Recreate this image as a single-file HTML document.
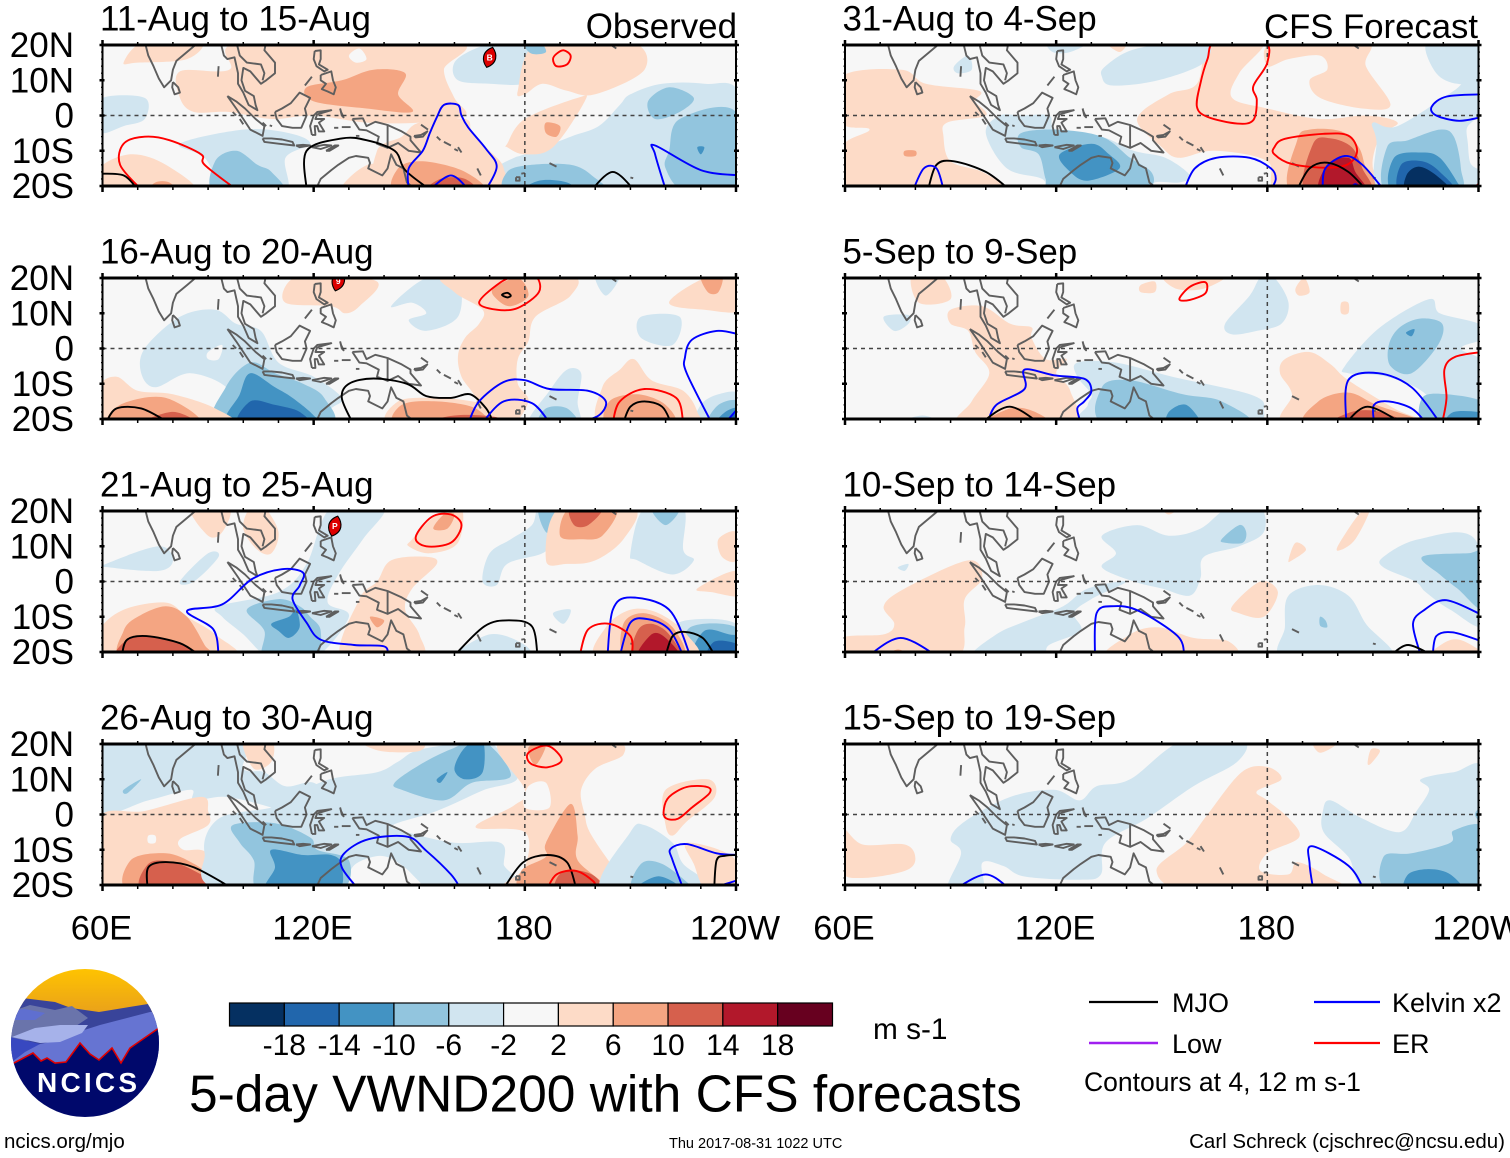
<!DOCTYPE html>
<html lang="en">
<head>
<meta charset="utf-8">
<title>5-day VWND200 with CFS forecasts</title>
<style>
html,body{margin:0;padding:0;background:#fff;}
svg{display:block;font-family:"Liberation Sans",Arial,sans-serif;}
</style>
</head>
<body>
<svg id="chart" xmlns="http://www.w3.org/2000/svg" width="1510" height="1158" viewBox="0 0 1510 1158">
  <rect width="1510" height="1158" fill="#fff"/>
  <g id="panels"></g>
  <g id="colorbar"></g>
  <text x="873" y="1039" font-size="29.8">m s-1</text>
  <text x="189" y="1111.5" font-size="51.5">5-day VWND200 with CFS forecasts</text>
  <g>
    <line x1="1089" x2="1158" y1="1002" y2="1002" stroke="#000" stroke-width="2.2"/>
    <text x="1172" y="1012" font-size="27">MJO</text>
    <line x1="1314" x2="1380" y1="1002" y2="1002" stroke="#0000ff" stroke-width="2.2"/>
    <text x="1392" y="1012" font-size="27">Kelvin x2</text>
    <line x1="1089" x2="1158" y1="1043" y2="1043" stroke="#a020f0" stroke-width="2.6"/>
    <text x="1172" y="1053" font-size="27">Low</text>
    <line x1="1314" x2="1380" y1="1043" y2="1043" stroke="#ff0000" stroke-width="2.2"/>
    <text x="1392" y="1053" font-size="27">ER</text>
    <text x="1084" y="1091" font-size="26.5">Contours at 4, 12 m s-1</text>
  </g>
  <text x="4" y="1148" font-size="20.5">ncics.org/mjo</text>
  <text x="669" y="1148" font-size="14.5">Thu 2017-08-31 1022 UTC</text>
  <text x="1505" y="1148" font-size="20.5" text-anchor="end">Carl Schreck (cjschrec@ncsu.edu)</text>
  <g>
    <defs>
      <clipPath id="logoClip"><ellipse cx="85" cy="1043" rx="74" ry="74"/></clipPath>
      <linearGradient id="logoSky" x1="0" y1="0" x2="0" y2="1"><stop offset="0" stop-color="#ffc400"/><stop offset="1" stop-color="#e89f1c"/></linearGradient>
    </defs>
    <g clip-path="url(#logoClip)">
      <rect x="10" y="968" width="150" height="48" fill="url(#logoSky)"/>
      <path d="M10 997 L22 998 L55 1002 L71 1008 L99 1012 L148 1004 L160 1006 V1070 H10Z" fill="#39449a"/>
      <path d="M10 1012 L30 1005 L55 1010 L72 1006 L88 1018 L70 1030 L10 1045Z" fill="#6a74ab"/>
      <path d="M10 1010 L25 1009 L45 1013 L35 1020 L10 1020Z" fill="#5f6fd0"/>
      <path d="M78 1032 L100 1025 L150 1012 L160 1012 V1075 H10 V1050 L60 1040Z" fill="#6674d2"/>
      <path d="M12 1037 L35 1028 L60 1025 L88 1025 L82 1033 L60 1042 L40 1043Z" fill="#a6b2ea"/>
      <path d="M10 1037 L40 1044 L25 1052 L12 1062 L10 1062Z" fill="#3848c0"/>
      <path d="M10 1064 L14 1063 L33 1053 L41 1061 L47 1058 L55 1063 L66 1062 L80 1043 L90 1054 L99 1060 L112 1048 L121 1063 L130 1048 L156 1030 L162 1026 V1120 H10Z" fill="#00086b"/>
      <path d="M10 1064 L14 1063 L33 1053 L41 1061 L47 1058 L55 1063 L66 1062 L80 1043 L90 1054 L99 1060 L112 1048 L121 1063 L130 1048 L156 1030 L162 1026" fill="none" stroke="#e00000" stroke-width="1.6"/>
    </g>
    <text x="87" y="1092" font-size="28" font-weight="bold" fill="#fff" text-anchor="middle" textLength="100" lengthAdjust="spacing">NCICS</text>
  </g>
</svg>
<script>
// ---- axis data ----
const lonMajorTicks = [60, 120, 180, 240];
const lonTickLabels = ["60E", "120E", "180", "120W"];
const latMajorTicks = [20, 10, 0, -10, -20];
const latTickLabels = ["20N", "10N", "0", "10S", "20S"];
const colorLevels = [-18, -14, -10, -6, -2, 2, 6, 10, 14, 18];
const colorSteps = ["#053061", "#2166ac", "#4393c3", "#92c5de", "#d1e5f0", "#f7f7f7", "#fddbc7", "#f4a582", "#d6604d", "#b2182b", "#67001f"];
const contourColors = { mjo: "#000000", kelvin: "#0000ff", er: "#ff0000", low: "#a020f0" };

// ---- shared coastlines (lon, lat) ----
const coastlines = [
  [[72,21],[73,17],[74.5,14],[76,10.5],[77.5,8],[79.5,10],[80,13],[81,15.5],[84,18],[87,20.5],[91,22]],
  [[80,9.5],[81.5,8],[82,6.5],[80.5,6],[79.8,8],[80,9.5]],
  [[93.5,21],[94.5,17],[95.5,16],[97.5,16.5],[98.5,12],[98.5,9],[100,6.5],[101.5,3],[104,1.5],[103.5,3],[103,5.5],[100.5,7],[99.5,10],[100,13.5],[102,12.5],[105,9],[106.5,10],[109,12],[109,15],[106,18.5],[106.5,21]],
  [[98,21],[99,17],[101,15],[105,14.5],[106,12],[105.5,10]],
  [[95.5,5.5],[98,4],[100.5,2],[103.5,-1],[106,-3],[105.5,-5.8],[102,-4],[100,-1],[98,2],[95.5,5.5]],
  [[105.5,-6.5],[108,-6.5],[111,-6.8],[114,-7.5],[114.5,-8.5],[110,-8],[106,-7.5],[105.5,-6.5]],
  [[115,-8.5],[117,-8.3],[119,-8.5],[116,-9],[115,-8.5]],
  [[119.5,-9],[123,-8.3],[125,-8.5],[122,-9.5],[119.5,-9]],
  [[123.5,-10],[126,-8.5],[127,-8.5],[124.5,-10],[123.5,-10]],
  [[109,1],[111,2],[113.5,3.5],[116,6.5],[119,5],[117.5,2],[118,0],[116.5,-3.5],[114,-3.5],[111,-3],[109.5,-1],[109,1]],
  [[119.5,-5.5],[119,-3],[120,0],[121,1],[125,1.5],[121,0.3],[120.5,-1],[123,-1],[121.5,-2],[123,-4.5],[121.5,-4.5],[121,-3],[120.3,-3],[120.5,-5.5],[119.5,-5.5]],
  [[127.5,2],[128,0],[128.5,-0.5],[127.8,1],[127.5,2]],
  [[125.8,-3.5],[127,-3.5]],
  [[128,-3.3],[130.5,-3.3]],
  [[132,-5.8],[133,-5.8]],
  [[120.3,18.3],[122,18.5],[122,16],[121.5,14.5],[124,13],[123,12.5],[120.8,14],[120,16],[120.3,18.3]],
  [[122,11.5],[125,12.5],[125.5,10],[126.3,8],[125.7,6],[124,6.8],[122.3,7.5],[123.5,9],[122,10],[122,11.5]],
  [[117.5,8.5],[119.5,11]],
  [[92.8,11],[93,14]],
  [[97,1],[98,0]],
  [[99,-1],[100,-2.5]],
  [[105.5,-2],[106.5,-3]],
  [[107.5,-2.8],[108.2,-3]],
  [[131,-1],[134,-0.8],[135,-3],[137.5,-1.8],[141,-2.7],[145,-4.5],[147.5,-6],[147.5,-7],[150.5,-10.5],[147,-10],[144,-7.8],[141,-9.2],[138,-8],[138.5,-6],[135,-4.2],[133,-4],[132,-2.5],[131,-1]],
  [[141,-2.7],[141,-9.2]],
  [[148.5,-5.8],[150.5,-5.5],[152.3,-4.5],[151,-6],[149,-6.2],[148.5,-5.8]],
  [[150.5,-2.6],[152.5,-4]],
  [[155,-6],[156,-7]],
  [[157,-7.5],[159,-8.5]],
  [[160,-9.5],[161,-10]],
  [[161,-9],[162,-10.5]],
  [[120.6,-21],[122,-18],[125,-15.5],[127,-14],[130,-12],[132,-11.5],[135.5,-12],[136,-13.5],[135.5,-15],[139.5,-17],[141,-15],[142,-11],[143.5,-14],[145.5,-15],[146.5,-19],[149,-21]],
  [[166.5,-15],[167.5,-17]],
  [[177.5,-17.5],[178.5,-17.5],[178.5,-18.5],[177.5,-18.5],[177.5,-17.5]],
  [[179,-16.5],[180,-16.3]],
  [[187,-13.5],[189,-14.5]],
  [[204.5,20],[206,19]],
  [[210,-17.6],[210.8,-17.8]]
];

// ---- panel 1: 11-Aug to 15-Aug ----
const p1Fills = [
  [-4,[[82,-8],[100,-4],[113,-5],[119,-8],[112,-12],[112,-22],[96,-22],[89,-12]]],
  [-4,[[59,-1],[60,5],[72,5],[72,-1],[66,-3],[60,-5]]],
  [-4,[[161,10],[160,15],[166,19],[174,21],[187,21],[184,13],[180,9],[170,9]]],
  [-4,[[172,-15],[177,-12],[180,-11],[193,-6],[201,-3],[207,3],[210,6],[219,9],[231,9],[241,6],[242,-22],[169,-22]]],
  [4,[[66,15],[72,21],[88,21],[84,16],[70,15]]],
  [4,[[82,12.5],[96,13],[100,21],[160,21],[157,13],[160,5],[163,0],[150,-2],[135,-2],[120,0],[108,-1],[96,1],[86,1],[82,5]]],
  [0,[[130,17],[133,19],[135,16],[132,15]]],
  [4,[[140,-22],[138,-10],[145,-6],[150,-2],[163,-1],[165,-5],[170,-10],[174,-15],[172,-22]]],
  [4,[[175,-8],[180,-1],[195,5],[197,4],[188,-9],[180,-11],[175,-9]]],
  [4,[[178,7],[184,21],[210,21],[214,13],[200,6],[192,7],[185,9],[180,6]]],
  [4,[[59,-15],[68,-11],[78,-14],[86,-22],[59,-22]]],
  [4,[[128,-22],[132,-16],[138,-14],[142,-22]]],
  [8,[[118,8],[128,10],[137,13],[146,12],[144,6],[148,1],[135,2],[120,4]]],
  [8,[[144,-22],[144,-15],[151,-13],[163,-16],[168,-22]]],
  [12,[[152,-22],[156,-18],[163,-18],[166,-22]]],
  [8,[[186,-2],[190,-3],[189,-6],[186,-5]]],
  [8,[[73,-22],[75,-19],[79,-19],[81,-22]]],
  [-8,[[92,-22],[92,-13],[98,-10],[104,-14],[108,-16],[111,-22]]],
  [-8,[[176,-22],[175,-16],[182,-14],[193,-14],[199,-17],[202,-22]]],
  [-12,[[179,-22],[184,-18.5],[192,-19],[194,-22]]],
  [-8,[[221,-10],[224,-1],[240,1],[242,-22],[226,-22],[220,-15]]],
  [-8,[[215,4],[221,8],[228,5],[224,1],[217,-1]]],
  [-8,[[180,20],[184,21],[186,18],[182,17.5]]],
  [-12,[[229,-9],[231,-9],[230,-11]]]
];
const p1Contours = [
  ["er",0,[[71,-21],[65,-14],[66,-8],[72,-6],[79,-7],[88,-11],[89,-14],[98,-21]]],
  ["mjo",0,[[59,-16.5],[66,-17],[70,-21]]],
  ["mjo",0,[[118,-21],[118,-10],[128,-6.5],[135,-7],[143,-10],[146,-15.5],[153,-21]]],
  ["kelvin",0,[[147,-21],[147,-15],[151,-10],[153,-5],[155,-0.5],[157,3],[161,3],[162,0],[164,-3.5],[169,-9.5],[172,-14.5],[169,-21]]],
  ["kelvin",0,[[153,-21],[159,-17],[164,-21]]],
  ["mjo",0,[[199,-21],[205,-16],[211,-21]]],
  ["kelvin",0,[[220,-21],[217,-11],[217,-8.5],[230,-15.5],[241,-17]]],
  ["er",1,[[189,17.5],[191,18.5],[193,17],[192,14.5],[189,14],[188,16]]]
];
const p1Storm = [170, 16.5, "B"];

// ---- panel 2: 16-Aug to 20-Aug ----
const p2Fills = [
  [-4,[[71,-7],[72,0],[82,9],[92,11],[98,7],[105,5],[110,-4],[120,-8],[128,-14],[125,-17],[120,-22],[94,-22],[96,-12],[85,-7],[75,-11]]],
  [0,[[90,-1],[94,1],[93,-3],[90,-3]]],
  [-8,[[93,-22],[95,-11],[102,-4],[109,-7],[117,-10],[123,-14],[124,-22]]],
  [-12,[[96,-22],[99,-13],[102,-7],[109,-11],[114,-14],[120,-19],[121,-22]]],
  [-16,[[99,-22],[102,-15],[109,-16],[116,-18],[118,-22]]],
  [-4,[[142,12],[152,20],[161,19],[161,9],[152,5],[147,8],[152,10],[148,13]]],
  [-4,[[200,21],[207,21],[203,15]]],
  [-4,[[213,9],[224,9],[222,1],[213,3]]],
  [-4,[[229,-22],[230,-16],[235,-13],[241,-13],[242,-22]]],
  [-4,[[181,-22],[187,-12],[192,-6],[196,-7],[195,-15],[195,-22]]],
  [4,[[112,13],[113,19],[120,21],[138,19],[133,12],[129,10],[125,12]]],
  [4,[[158,21],[192,21],[193,15],[183,9],[181,2],[178,-3],[178,-10],[181,-15],[176,-22],[168,-22],[166,-14],[162,-8],[161,-2],[163,3],[167,7],[168,11],[160,16]]],
  [4,[[143,-22],[144,-15],[155,-14],[165,-15],[172,-17],[180,-22]]],
  [8,[[144,-22],[145,-16],[155,-15],[166,-17],[168,-22]]],
  [12,[[150,-22],[160,-19],[172,-19.5],[175,-22]]],
  [8,[[171,17],[178,20],[181,15],[176,12],[172,14]]],
  [4,[[202,-22],[202,-11],[207,-6],[211,-3],[216,-9],[225,-12],[229,-18],[228,-22]]],
  [8,[[204,-22],[204,-15],[212,-13],[220,-16],[222,-22]]],
  [4,[[59,-11],[64,-8],[70,-12],[80,-13],[92,-17],[96,-22],[59,-22]]],
  [8,[[63,-22],[65,-16],[78,-14],[88,-22]]],
  [12,[[70,-22],[80,-18],[87,-22]]],
  [4,[[221,13],[231,20],[240,21],[242,11],[231,11]]],
  [8,[[230,21],[232,16],[235,16],[236,21]]],
  [-8,[[184,-22],[186,-17],[192,-17],[195,-22]]],
  [-8,[[232,-22],[235,-16],[241,-15],[242,-22]]],
  [-12,[[234,-22],[237,-18],[241,-17],[242,-22]]],
  [-16,[[235.5,-22],[238,-19.5],[241,-18.5],[242,-22]]],
  [-20,[[237,-22],[240,-19.5],[242,-22]]]
];
const p2Contours = [
  ["er",1,[[167,13],[172,18],[177,20.5],[183,20.5],[184,16],[178,11.5],[172,11]]],
  ["mjo",1,[[173.5,15.2],[175,15.8],[176,15],[175,14.5]]],
  ["mjo",0,[[61,-21],[64,-17],[71,-17],[78,-20.5]]],
  ["mjo",0,[[131,-21],[128,-14],[130,-10],[137,-8.5],[146.5,-10],[152,-13.5],[159,-14],[164.5,-13],[169,-17],[171,-21]]],
  ["kelvin",0,[[164,-21],[167,-15],[174,-9.5],[180,-9],[187,-11.5],[198,-12],[203,-15],[201,-19],[195,-21]]],
  ["kelvin",0,[[168,-21],[174,-15],[182,-15.5],[187,-21]]],
  ["er",0,[[205,-21],[207,-15],[214,-11.5],[223,-14],[225,-21]]],
  ["mjo",0,[[208,-21],[210,-16.5],[214,-15],[219,-16.5],[221.5,-21]]],
  ["kelvin",0,[[233,-21],[226,-7],[225.5,-2.5],[227.5,2.5],[234.5,5],[241,4]]],
  ["kelvin",0,[[237,-21],[241,-16.5]]]
];
const p2Storm = [127, 19.2, "9"];

// ---- panel 3: 21-Aug to 25-Aug ----
const p3Fills = [
  [4,[[59,-14],[66,-8],[78,-6],[84,-10],[92,-15],[97,-22],[59,-22]]],
  [8,[[66,-22],[66,-14],[70,-10],[78,-7],[84,-10],[89,-18],[91,-22]]],
  [12,[[65,-22],[67,-16.5],[74,-15.5],[82,-17.5],[88,-22]]],
  [-4,[[93,-7],[110,-3],[118,5],[125,21],[140,21],[134,12],[127,2],[124,-6],[130,-10],[120,-22],[108,-22],[100,-15],[94,-10]]],
  [-8,[[101,-8],[110,-5],[116,-7],[119,-10],[122,-14],[120,-22],[106,-22],[106,-14]]],
  [-12,[[108,-12],[113,-10],[115,-8],[116,-13],[113,-16],[110,-14]]],
  [-4,[[61,5],[76,10],[80,6],[76,3],[62,4]]],
  [-4,[[82,0],[90,8],[93,7],[86,0]]],
  [4,[[85,21],[90,13],[94,14],[96,21]]],
  [4,[[102,21],[100,15],[104,9],[108,8],[110,14],[106,21]]],
  [4,[[148,12],[155,19],[162,21],[161,11],[153,8],[147,10]]],
  [8,[[154,15],[157,19],[160,19],[158,15]]],
  [4,[[128,-22],[133,-5],[138,0],[142,6],[152,7],[155,5],[148,-2],[146,-8],[150,-15],[150,-22]]],
  [8,[[136,-10],[140,-11],[138,-13]]],
  [-4,[[168,0],[170,8],[176,12],[182,16],[184,21],[190,21],[188,12],[185,8],[175,5],[172,-1]]],
  [-8,[[184,21],[191,21],[190,15],[186,14]]],
  [-4,[[210,8],[214,21],[225,21],[225,9],[228,6],[222,2],[212,6]]],
  [-8,[[216,21],[224,21],[220,16]]],
  [4,[[186,6],[190,21],[211,21],[208,12],[200,6],[192,5]]],
  [8,[[190,13],[193,21],[206,21],[202,13],[196,12]]],
  [12,[[193,21],[202,21],[198,16],[194,16]]],
  [-4,[[221,-15],[226,-11],[240,-12],[242,-22],[223,-22]]],
  [-8,[[226,-22],[227,-13],[240,-13],[242,-22]]],
  [-12,[[228,-22],[231,-14],[238,-15],[241,-16],[242,-22]]],
  [-16,[[232,-22],[234,-17],[241,-18],[242,-22]]],
  [4,[[201,-22],[203,-13],[210,-8],[218,-9],[226,-15],[228,-22]]],
  [8,[[209,-22],[208,-12],[214,-9],[222,-13],[225,-22]]],
  [12,[[211,-22],[212,-14],[216,-12],[221,-15],[224,-22]]],
  [16,[[212,-22],[216,-15],[220,-16],[224,-22]]],
  [-4,[[160,-22],[170,-15],[180,-18],[180,-22]]],
  [-4,[[188,-9],[193,-8],[191,-12]]],
  [4,[[229,-2],[240,3],[242,-4],[233,-3]]],
  [4,[[235,12],[240,14],[240,6],[236,7]]]
];
const p3Contours = [
  ["er",1,[[152,10],[149,12.6],[153.5,18.3],[159,19],[162,16],[159,11]]],
  ["kelvin",0,[[93,-21],[91.5,-13.6],[84,-8.4],[94,-6.5],[102.5,0.7],[111,3.5],[117,2.5],[116,-1.2],[114,-5],[118,-11.7],[122,-16.5],[131.5,-18],[140,-18.4],[141,-21]]],
  ["kelvin",0,[[203.5,-21],[205,-8],[210,-4.5],[221,-8],[227,-21]]],
  ["kelvin",0,[[207,-21],[210,-11.7],[215,-10.7],[221,-13.6],[225,-21]]],
  ["er",0,[[195.6,-21],[198,-13.6],[204,-12],[210,-15.5],[210.5,-21]]],
  ["mjo",0,[[65.5,-21],[67,-16.5],[72.5,-15.5],[82,-17.5],[87.5,-21]]],
  ["mjo",0,[[160,-21],[168.5,-12.7],[175.5,-11],[182,-12.7],[183.6,-21]]],
  ["mjo",0,[[220,-21],[222,-15.5],[225.5,-14.3],[230.5,-16],[234,-21]]]
];
const p3Storm = [126, 15.7, "P"];

// ---- panel 4: 26-Aug to 30-Aug ----
const p4Fills = [
  [-4,[[59,1],[59,21],[98,21],[100,13],[106,12],[112,8],[120,9],[125,3],[117,-1],[108,2],[95,5],[86,4],[85,7],[73,4]]],
  [4,[[59,-1],[72,1],[88,5],[90,1],[90,-3],[82,-7],[83,-10],[90,-11],[98,-22],[59,-22]]],
  [0,[[73,-6],[75,-6],[75,-8],[73,-8]]],
  [8,[[68,-22],[68,-13],[78,-11],[86,-14],[93,-19],[95,-22]]],
  [12,[[72,-22],[73,-14],[80,-13.5],[88,-17],[96,-22]]],
  [-4,[[93,-1.2],[108,2],[113.5,5],[124.5,10],[138,12],[144,15],[150.5,18.5],[168,21],[170,21],[178,10.6],[168,6.8],[155,1],[142.5,-3],[146.5,-5],[160,-8],[173,-8],[174,-14],[172.5,-22],[97,-22],[89,-11]]],
  [0,[[130,-22],[131,-15],[137,-12],[142,-12.5],[148,-17],[150,-22]]],
  [-8,[[97,-3],[109,-2.5],[119,-6.5],[121,-10],[130,-13],[127,-22],[105,-22],[103,-13],[99,-8]]],
  [-12,[[108,-10],[117,-11.5],[125,-11.5],[128,-14.5],[126,-22],[107,-22],[109,-15]]],
  [-8,[[143,9],[150,14],[159,18.5],[168,21],[176,11],[165,9],[157,4],[145,7]]],
  [-12,[[160,13],[163,19],[168,21],[168,12],[163,10]]],
  [-12,[[155,10],[158,12],[156,9]]],
  [-8,[[66,7],[71,10],[67,6]]],
  [4,[[166,-3.6],[177,2.6],[180,7],[173,21],[204,21],[208,17],[200,13],[196,7],[197,0],[199,-6],[208,-19],[210,-22],[174,-22],[180,-15],[180,-5]]],
  [0,[[181,8],[186,9],[187,2],[180,2]]],
  [8,[[186,-8],[193,3],[195,-6],[195,-13],[203,-22],[180,-22],[179,-16],[186,-12]]],
  [12,[[189,-22],[191,-16],[199,-17],[202,-22]]],
  [8,[[181,19],[186,20],[183,14]]],
  [4,[[134,21],[139,18],[150,18],[150,21]]],
  [4,[[100,21],[103,13],[108,15],[108,21]]],
  [-4,[[202,-22],[210,-5],[214,-3],[222,-8],[225,-14],[233,-22]]],
  [-8,[[211,-22],[213,-14],[219,-14],[227,-20],[228,-22]]],
  [-12,[[211,-22],[218,-17.5],[225,-22]]],
  [4,[[220,7],[232,10],[234,5],[226,-2],[222,-6],[220,-3]]],
  [4,[[226,-8],[239,-12],[242,-22],[232,-22],[228,-14]]]
];
const p4Contours = [
  ["mjo",0,[[72.8,-21],[73,-15],[78,-13.5],[86,-15],[97,-21]]],
  ["kelvin",0,[[132.5,-21],[128,-15],[128.7,-11],[135.6,-7],[146.6,-6.3],[152,-10.3],[159,-17],[161.7,-21]]],
  ["mjo",0,[[174,-21],[179.5,-13.6],[186.4,-11.5],[192,-13.6],[194.6,-21]]],
  ["er",0,[[186.4,-21],[189,-17],[194.6,-16],[199.5,-19],[200,-21]]],
  ["kelvin",0,[[225,-21],[222,-13],[221.4,-9.8],[226,-8.4],[234.5,-11],[241,-11.5]]],
  ["mjo",0,[[233.8,-21],[234.5,-13],[237,-11.7],[241,-11.5]]],
  ["kelvin",0,[[236,-20],[241,-18.5]]],
  ["er",1,[[181,17.5],[186.5,19.5],[190.5,15.5],[186.4,13.4],[181.6,14.5]]],
  ["er",1,[[219.5,1.6],[221,5],[226,7.8],[231.8,7.8],[232.4,6],[227.5,2],[223.5,-1.2],[220,-1]]]
];
const p4Storm = null;

// ---- panel 5: 31-Aug to 4-Sep ----
const p5Fills = [
  [4,[[59,11],[76,13],[83,9],[98,7],[97,4],[100,0],[89,-2],[88,-6],[90,-13],[99,-16],[107,-21],[107,-22],[59,-22],[59,-9],[67,-4],[59,-2]]],
  [4,[[143,-1],[152,6],[160,9],[164,21],[179,21],[172,12],[170,5],[180,2],[195,-1],[208,0],[217,-2],[212,-6],[210,-15],[215,-22],[184,-22],[180,-13],[165,-10],[155,-12],[150,-9]]],
  [4,[[180,14],[182,21],[208,21],[208,14],[215,3],[207,2],[195,5],[192,10],[197,13],[195,17],[186,16]]],
  [4,[[134,21],[140,21],[138,18]]],
  [8,[[77,-10],[80,-10],[80,-11.5],[77,-11.5]]],
  [8,[[187,-22],[188.5,-7],[192,-4],[201,-4.5],[206,-9],[208,-15],[211,-22]]],
  [12,[[191,-22],[193,-8],[198,-6.5],[204,-9],[207,-15],[209,-22]]],
  [16,[[195,-22],[197,-14],[203,-12],[205,-16],[208,-22]]],
  [-4,[[100,-5],[104,0],[110,0],[118,0],[120,-4],[133,-6],[142,-10],[151,-12],[158,-17],[155,-19],[148,-19],[146,-22],[120,-22],[116,-18],[106,-15]]],
  [-8,[[110,-5],[120,-4],[133,-6],[141,-12],[147,-16],[147,-20],[140,-22],[119,-22],[117,-18],[115,-11],[110,-9]]],
  [-12,[[121,-11],[130,-8],[135,-11],[138,-15],[129,-18.5],[124,-16]]],
  [-4,[[134,14],[143,19],[162,21],[162,15],[149,10],[136,8.5],[133,11]]],
  [-4,[[118,21],[129,21],[124,18],[119,18]]],
  [-4,[[91,14],[95,17],[96,13],[92,12]]],
  [-4,[[210,-2],[217,-3],[233,7],[242,13],[242,-22],[213,-22],[211,-7]]],
  [-4,[[225,20],[232,21],[242,21],[242,10],[234,9],[228,12]]],
  [0,[[237,-3],[242,-1],[242,-14],[238,-14],[237,-8]]],
  [-8,[[214,-22],[214,-9],[220,-7],[229,-4],[233,-6],[235,-15],[234,-22]]],
  [-12,[[216,-22],[216,-12],[224,-10.5],[229,-12],[234,-19],[235,-22]]],
  [-16,[[218,-22],[218,-14],[224,-13],[229,-16],[233,-22]]],
  [-20,[[220,-22],[219.5,-17],[223,-14.5],[228,-17],[232,-22]]]
];
const p5Contours = [
  ["er",1,[[165.5,21],[179,21],[180,15],[176,8.3],[177,4.4],[176,-1.3],[171.5,-2.3],[163,-0.4],[160,2.5],[161,9.2],[163,16]]],
  ["er",1,[[182,-9],[185,-6.6],[196,-5.2],[203,-5.7],[205.5,-10],[203,-13.8],[197,-14.8],[187,-13.8],[182,-11]]],
  ["kelvin",0,[[195.7,-21],[196.5,-15],[202,-11.5],[207,-14],[213,-21]]],
  ["kelvin",0,[[203,-21],[205,-19.5],[207,-21]]],
  ["mjo",0,[[188.5,-21],[192,-15],[197,-13.4],[203,-16],[208,-21]]],
  ["kelvin",0,[[156.4,-21],[159.4,-15],[165.5,-12],[175,-12],[181,-15],[182.4,-18],[181,-21]]],
  ["mjo",0,[[83.6,-21],[86,-14],[91,-13],[100,-16],[106.7,-21]]],
  ["kelvin",0,[[79.4,-21],[82.4,-15],[86,-15],[88,-21]]],
  ["kelvin",0,[[241,6],[231,5.4],[226.7,2.5],[228,0],[234.5,-1.5],[241,-0.4]]],
  ["er",0,[[238.2,-21],[241,-18.5]]]
];
const p5Storm = null;

// ---- panel 6: 5-Sep to 9-Sep ----
const p6Fills = [
  [4,[[79,21],[87,21],[90,14],[81,13]]],
  [4,[[90,11],[99,12],[107,7],[113,6],[113,3],[117,-3],[123,-3],[120,-7],[124,-12],[124,-22],[93,-22],[96,-15],[101,-7],[97,-1],[95,5],[90,7]]],
  [8,[[99,-22],[107,-17],[114,-18],[118,-22]]],
  [4,[[151,21],[168,21],[162,17],[154,17]]],
  [4,[[144,18],[148,19],[148,16],[144,16]]],
  [4,[[188,17],[190.5,20],[192,16],[189,15]]],
  [4,[[201,13],[203,13],[203,10],[201,10]]],
  [-4,[[168,7],[175,15],[178,20],[182,20],[186,13],[184,7],[177,5],[170,4]]],
  [-4,[[71,9],[78,9.5],[78,7],[74,5]]],
  [-4,[[202,-5],[212,6],[226,14],[229,10],[240,7],[242,3],[235,0],[242,-5],[242,-22],[228,-22],[225,-13],[214,-8],[203,-7]]],
  [-8,[[214.5,1],[217.6,6],[223.6,8.5],[229.7,7],[228.5,1],[221,-7],[215,-5]]],
  [-12,[[219.4,4.5],[221.8,5.5],[221,3.5]]],
  [-8,[[224,-14],[231,-13],[242,-15.5],[242,-22],[225,-22]]],
  [-12,[[231,-22],[233,-18],[242,-18.5],[242,-22]]],
  [-4,[[126,-4],[137,-4],[153,-8],[175,-13],[179,-17],[173,-22],[129,-22],[129,-16],[130,-13],[126,-8]]],
  [-8,[[133,-11],[141,-9],[156,-13],[167,-15],[174,-22],[135,-22]]],
  [-12,[[152,-22],[152,-18],[157,-16],[161,-22]]],
  [-4,[[74,-22],[82,-19],[88,-22]]],
  [4,[[185,-3],[192,-1],[198,-4.5],[203,-9],[216,-17],[225,-22],[186,-22],[187,-13],[183.6,-7]]],
  [8,[[192,-22],[194.5,-15],[203,-12.5],[211,-16],[225,-22]]],
  [12,[[198,-22],[204,-18],[212,-18],[220,-22]]]
];
const p6Contours = [
  ["er",1,[[155,14],[158,17.5],[162.4,18.8],[162.4,15.7],[158,13.8]]],
  ["kelvin",0,[[100.6,-21],[103,-16],[111,-11.5],[111,-6],[119.4,-7.6],[128,-8.6],[130,-12],[128,-15],[126,-17],[127,-21]]],
  ["mjo",0,[[98.8,-21],[106.7,-16.5],[115,-21]]],
  ["kelvin",0,[[202.4,-21],[203,-9],[211.5,-7],[221,-11],[229,-21]]],
  ["kelvin",0,[[210.3,-21],[210.3,-16],[214.5,-15],[221,-17],[225,-21]]],
  ["mjo",0,[[202.4,-21],[208.5,-16.5],[218,-21]]],
  ["er",0,[[229.7,-21],[230.9,-14],[230.3,-6],[233.3,-2.4],[241,-1]]]
];
const p6Storm = null;

// ---- panel 7: 10-Sep to 14-Sep ----
const p7Fills = [
  [4,[[59,-16],[71,-15],[74,-12],[71,-7],[77,-2],[95,6],[99,1],[94,-5],[94,-13],[90,-22],[59,-22]]],
  [-4,[[133,13],[143,16],[152,13],[161,15],[169,21],[178,21],[179,14],[172,10],[162,7],[161,1],[158,-4],[150,-2],[142,0],[133,4],[137,8]]],
  [-4,[[96,-22],[103,-15],[112,-11],[122,-7],[129,-2],[140,0],[130,-5],[125,-9],[127,-14],[118,-18],[115,-22]]],
  [-8,[[167,12],[172,16],[174,14],[173,11],[168,11]]],
  [-4,[[75,4],[78,5],[77,3]]],
  [4,[[170,-7],[178,0],[183,-3],[179,-10],[172,-9]]],
  [4,[[186,6],[188,11],[191,9],[187,6]]],
  [4,[[200,10],[206,19],[209,20],[205,12],[201,9]]],
  [4,[[135,-22],[141,-15],[149,-13],[159,-16],[169,-17],[169,-22]]],
  [4,[[150,21],[155,21],[152,19]]],
  [-4,[[185,-13],[186,-4],[194.5,-1],[203,-4],[208,-12],[215,-22],[185,-22]]],
  [-8,[[195,-10],[196.5,-11],[197,-13],[195,-12.5]]],
  [-4,[[213,7],[223,12],[239,12],[242,-12],[232,-8],[225,-3],[222,0],[213,4]]],
  [-8,[[224,7],[237,8],[242,8],[242,-8],[234,-2],[229,2]]],
  [4,[[226,-22],[231,-17],[236,-17],[242,-22]]],
  [8,[[71,-22],[75,-19.3],[80,-22]]]
];
const p7Contours = [
  ["kelvin",0,[[66.7,-21],[75.8,-16],[86,-21]]],
  ["kelvin",0,[[131,-21],[131.5,-9],[136.4,-7],[143.6,-8.4],[154.5,-15.5],[156.4,-21]]],
  ["kelvin",0,[[223.6,-21],[221.4,-12],[224.7,-8],[230.9,-5.3],[241,-9.5]]],
  ["kelvin",0,[[227,-21],[228,-15.5],[232.6,-14.4],[241,-17]]],
  ["mjo",0,[[215,-21],[220,-18],[227,-21]]]
];
const p7Storm = null;

// ---- panel 8: 15-Sep to 19-Sep ----
const p8Fills = [
  [-4,[[89,-22],[93,-11],[90,-7],[94,-2],[107,5],[119.4,7],[126.7,4],[131.5,8],[141,10],[156,21],[173,21],[171.5,15],[159,8],[146,-1],[134,-8],[132.7,-17],[126.7,-18.5],[111,-17.6],[105,-14.6],[99,-13.7],[99,-22]]],
  [4,[[59,-4],[65,-8.5],[77,-8.5],[80,-12.5],[77,-16],[65,-18],[59,-16]]],
  [4,[[148.5,-16],[157,-8],[163,0],[172.7,12],[180,13.5],[184,10],[177,6.6],[180,4],[186,-1],[189,-6.5],[180,-11],[178,-16],[186,-17],[188.5,-13.5],[196,-17],[200.6,-22],[159,-22]]],
  [4,[[193,21],[200,20.5],[195,17.5]]],
  [4,[[208.5,14.5],[209.5,18.5],[212,18],[209.5,14.5]]],
  [-4,[[195.8,1],[198,4],[206.7,-1],[217.6,-5],[222.4,1],[226,7],[223.6,10],[233,12],[242,12],[242,-22],[210,-22],[203,-12],[196,-5]]],
  [-8,[[213,-12],[221,-11],[232,-8],[233,-4.5],[242,-4],[242,-22],[215,-22]]],
  [-12,[[220,-17],[226,-15.5],[232,-17],[235,-22],[220,-22]]],
  [-8,[[239,0],[242,3],[242,-3]]]
];
const p8Contours = [
  ["kelvin",0,[[91.5,-21],[100,-17],[106.7,-21]]],
  ["kelvin",0,[[193,-21],[192,-14],[192.6,-9],[203,-14.5],[207.3,-21]]]
];
const p8Storm = null;

// ---- rendering ----
const SVGNS = "http://www.w3.org/2000/svg";
const PANEL_W = 633.5, PANEL_H = 141;
const LON_MIN = 60, LON_MAX = 240, LAT_MAX = 20, LAT_MIN = -20;

function mk(parent, tag, attrs) {
  const el = document.createElementNS(SVGNS, tag);
  for (const k in attrs) el.setAttribute(k, attrs[k]);
  parent.appendChild(el);
  return el;
}
function colorFor(v) {
  let i = 0;
  while (i < colorLevels.length && v >= colorLevels[i]) i++;
  return colorSteps[i];
}
function smoothPath(points, closed) {
  const n = points.length;
  const at = (i) => closed ? points[(i + n) % n] : points[Math.max(0, Math.min(n - 1, i))];
  let d = "M" + points[0][0].toFixed(1) + " " + points[0][1].toFixed(1);
  const last = closed ? n : n - 1;
  for (let i = 0; i < last; i++) {
    const p0 = at(i - 1), p1 = at(i), p2 = at(i + 1), p3 = at(i + 2);
    const c1x = p1[0] + (p2[0] - p0[0]) / 6, c1y = p1[1] + (p2[1] - p0[1]) / 6;
    const c2x = p2[0] - (p3[0] - p1[0]) / 6, c2y = p2[1] - (p3[1] - p1[1]) / 6;
    d += "C" + c1x.toFixed(1) + " " + c1y.toFixed(1) + " " + c2x.toFixed(1) + " " + c2y.toFixed(1) + " " + p2[0].toFixed(1) + " " + p2[1].toFixed(1);
  }
  return d + (closed ? "Z" : "");
}

let panelCounter = 0;
function drawPanel(x0, y0, title, fills, contours, storm, showLatLabels, showLonLabels) {
  panelCounter++;
  const xScale = (lon) => x0 + (lon - LON_MIN) / (LON_MAX - LON_MIN) * PANEL_W;
  const yScale = (lat) => y0 + (LAT_MAX - lat) / (LAT_MAX - LAT_MIN) * PANEL_H;
  const toPx = (pts) => pts.map((p) => [xScale(p[0]), yScale(p[1])]);
  const root = document.getElementById("panels");

  const g = mk(root, "g", {});
  
  

  const clip = mk(g, "clipPath", { id: "clip" + panelCounter });
  mk(clip, "rect", { x: xScale(LON_MIN), y: yScale(LAT_MAX), width: PANEL_W, height: PANEL_H });

  const bg = mk(g, "rect", { x: x0, y: y0, width: PANEL_W, height: PANEL_H, fill: colorFor(0) });
  
  

  const plot = mk(g, "g", { "clip-path": "url(#clip" + panelCounter + ")" });
  
  

  fills.forEach((f) => {
    const el = mk(plot, "path", { d: smoothPath(toPx(f[1]), true), fill: colorFor(f[0]) });
    
    
  });

  coastlines.forEach((c) => {
    const el = mk(plot, "polyline", {
      points: toPx(c).map((p) => p[0].toFixed(1) + "," + p[1].toFixed(1)).join(" "),
      fill: "none", stroke: "#5e5e5e", "stroke-width": 1.9, "stroke-linejoin": "round"
    });
    
    
  });

  const eq = mk(plot, "line", { x1: xScale(LON_MIN), x2: xScale(LON_MAX), y1: yScale(0), y2: yScale(0), stroke: "#444", "stroke-width": 1.5, "stroke-dasharray": "4 4" });
  
  
  const dl = mk(plot, "line", { x1: xScale(180), x2: xScale(180), y1: yScale(LAT_MAX), y2: yScale(LAT_MIN), stroke: "#444", "stroke-width": 1.5, "stroke-dasharray": "4 4" });
  
  

  contours.forEach((c) => {
    const el = mk(plot, "path", { d: smoothPath(toPx(c[2]), !!c[1]), fill: "none", stroke: contourColors[c[0]], "stroke-width": 1.9 });
    
    
  });

  if (storm) {
    const sx = xScale(storm[0]), sy = yScale(storm[1]);
    const sg = mk(plot, "g", {});
    
    
    mk(sg, "path", {
      d: "M" + (sx + 3) + " " + (sy - 10) + "C" + (sx - 8) + " " + (sy - 6) + " " + (sx - 8) + " " + (sy + 3) + " " + (sx - 3) + " " + (sy + 10) + "C" + (sx + 8) + " " + (sy + 6) + " " + (sx + 8) + " " + (sy - 3) + " " + (sx + 3) + " " + (sy - 10) + "Z",
      fill: "#dd0000", stroke: "#000", "stroke-width": 1.1
    });
    const st = mk(sg, "text", { x: sx, y: sy + 3, "font-size": 8.5, "font-weight": "bold", fill: "#fff", "text-anchor": "middle" });
    st.textContent = storm[2];
  }

  // ticks
  const ticks = mk(g, "g", { stroke: "#000", fill: "none" });
  
  
  for (let lon = LON_MIN; lon <= LON_MAX; lon += 10) {
    const major = lonMajorTicks.indexOf(lon) >= 0;
    const len = major ? 5 : 3;
    const w = major ? 2.5 : 1.5;
    mk(ticks, "line", { x1: xScale(lon), x2: xScale(lon), y1: yScale(LAT_MAX), y2: yScale(LAT_MAX) - len, "stroke-width": w });
    mk(ticks, "line", { x1: xScale(lon), x2: xScale(lon), y1: yScale(LAT_MIN), y2: yScale(LAT_MIN) + len + 1, "stroke-width": w });
  }
  for (let lat = LAT_MIN; lat <= LAT_MAX; lat += 2) {
    const major = latMajorTicks.indexOf(lat) >= 0;
    const len = major ? 3 : 1.5;
    const w = major ? 2.5 : 1.2;
    mk(ticks, "line", { x1: xScale(LON_MIN) - len, x2: xScale(LON_MIN) + (major ? 2 : 0), y1: yScale(lat), y2: yScale(lat), "stroke-width": w });
    mk(ticks, "line", { x1: xScale(LON_MAX) - (major ? 2 : 0), x2: xScale(LON_MAX) + len, y1: yScale(lat), y2: yScale(lat), "stroke-width": w });
  }

  const frame = mk(g, "rect", { x: x0, y: y0, width: PANEL_W, height: PANEL_H, fill: "none", stroke: "#000", "stroke-width": 2 });
  
  
  mk(g, "line", { x1: x0 - 1, x2: x0 + PANEL_W + 1, y1: y0, y2: y0, stroke: "#000", "stroke-width": 3 });
  mk(g, "line", { x1: x0 - 1, x2: x0 + PANEL_W + 1, y1: y0 + PANEL_H, y2: y0 + PANEL_H, stroke: "#000", "stroke-width": 3 });

  const t = mk(g, "text", { x: x0 - 2.5, y: y0 - 14.5, "font-size": 34.9 });
  
  
  t.textContent = title;

  if (showLatLabels) {
    latMajorTicks.forEach((lat, i) => {
      const el = mk(g, "text", { x: x0 - 28.5, y: yScale(lat) + 12, "font-size": 35, "text-anchor": "end" });
      
      
      el.textContent = latTickLabels[i];
    });
  }
  if (showLonLabels) {
    lonMajorTicks.forEach((lon, i) => {
      const el = mk(g, "text", { x: xScale(lon) - 1, y: 939.5, "font-size": 34.5, "text-anchor": "middle" });
      
      
      el.textContent = lonTickLabels[i];
    });
  }
  return g;
}

const LEFT_X = 102.5, RIGHT_X = 845;
drawPanel(LEFT_X, 45, "11-Aug to 15-Aug", p1Fills, p1Contours, p1Storm, true, false);
drawPanel(LEFT_X, 278, "16-Aug to 20-Aug", p2Fills, p2Contours, p2Storm, true, false);
drawPanel(LEFT_X, 511, "21-Aug to 25-Aug", p3Fills, p3Contours, p3Storm, true, false);
drawPanel(LEFT_X, 744, "26-Aug to 30-Aug", p4Fills, p4Contours, p4Storm, true, true);
drawPanel(RIGHT_X, 45, "31-Aug to 4-Sep", p5Fills, p5Contours, p5Storm, false, false);
drawPanel(RIGHT_X, 278, "5-Sep to 9-Sep", p6Fills, p6Contours, p6Storm, false, false);
drawPanel(RIGHT_X, 511, "10-Sep to 14-Sep", p7Fills, p7Contours, p7Storm, false, false);
drawPanel(RIGHT_X, 744, "15-Sep to 19-Sep", p8Fills, p8Contours, p8Storm, false, true);

const panelsRoot = document.getElementById("panels");
const obsLabel = mk(panelsRoot, "text", { x: 737, y: 38, "font-size": 34.9, "text-anchor": "end" });


obsLabel.textContent = "Observed";
const fcLabel = mk(panelsRoot, "text", { x: 1478, y: 38, "font-size": 34.7, "text-anchor": "end" });


fcLabel.textContent = "CFS Forecast";

// colorbar
(function () {
  const root = document.getElementById("colorbar");
  const X0 = 229.5, Y0 = 1003, W = 603, H = 23;
  const n = colorSteps.length;
  const cw = W / n;
  colorSteps.forEach((c, i) => {
    const box = mk(root, "rect", { x: X0 + i * cw, y: Y0, width: cw, height: H, fill: c, stroke: "#000", "stroke-width": 1.2 });
    
    
  });
  colorLevels.forEach((v, i) => {
    const el = mk(root, "text", { x: X0 + (i + 1) * cw, y: 1055, "font-size": 30, "text-anchor": "middle" });
    
    
    el.textContent = String(v);
  });
})();
</script>
</body>
</html>
